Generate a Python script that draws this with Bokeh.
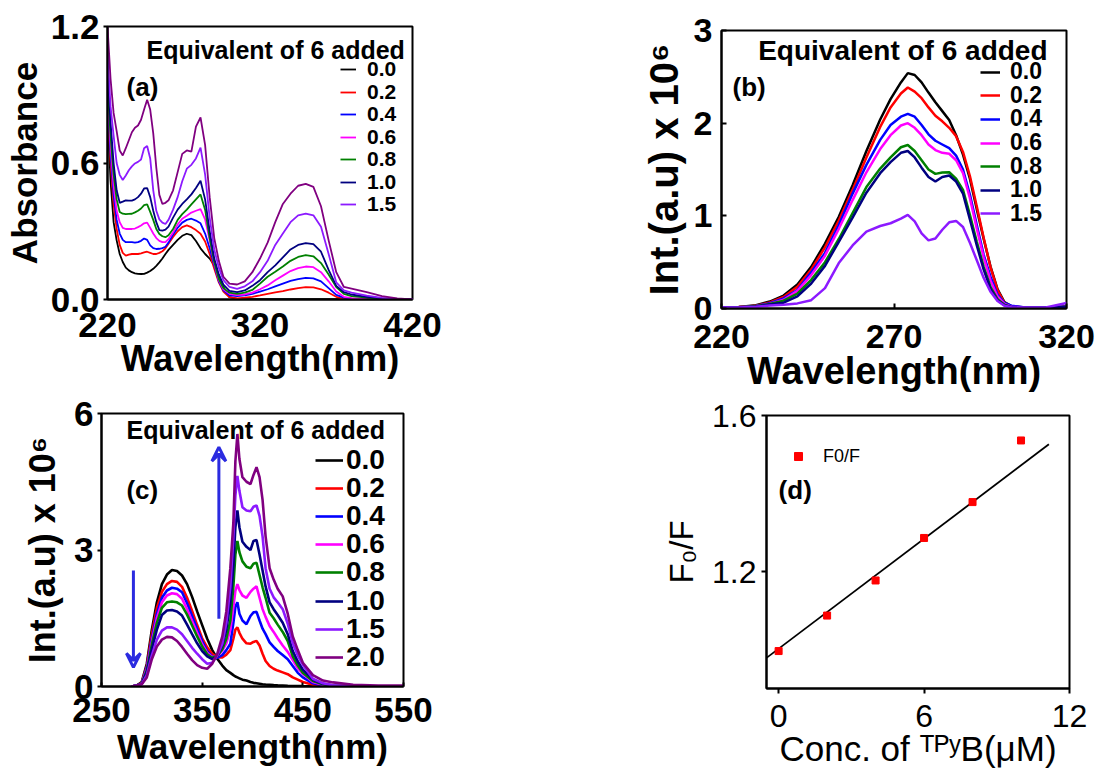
from bokeh.plotting import figure
from bokeh.layouts import row, column
from bokeh.models import (Legend, LegendItem, Label, Arrow, VeeHead, Title,
                          FixedTicker, NumeralTickFormatter, Range1d)
from bokeh.embed import file_html
from bokeh.resources import INLINE

FONT = "Liberation Sans"

# ---------------- data ----------------
equivalents = ["0.0", "0.2", "0.4", "0.6", "0.8", "1.0", "1.5", "2.0"]
colors = ["#000000", "#ff0000", "#0000ff", "#ff00ff", "#008000", "#000080", "#8c1aff", "#800080"]

# (a) absorbance
wl_a = [220, 222, 224, 226, 228, 230, 232, 234, 236, 238, 240, 242, 244, 246, 248, 250, 252, 254, 256, 258, 260,
        263, 266, 269, 272, 275, 278, 281, 284, 287, 290, 293, 296,
        300, 305, 310, 315, 320, 325, 330, 335, 340, 345, 350, 355, 360, 365, 370, 375, 380,
        390, 400, 410, 420]
abs_00 = [0.82, 0.52, 0.34, 0.26, 0.2, 0.165, 0.14, 0.128, 0.12, 0.115, 0.113, 0.112, 0.113, 0.118, 0.125, 0.135, 0.148, 0.163, 0.18, 0.2, 0.218,
          0.24, 0.262, 0.28, 0.289, 0.283, 0.257, 0.225, 0.2, 0.18, 0.15, 0.105, 0.055,
          0.01, 0.003, 0.002, 0.002, 0.002, 0.002, 0.002, 0.002, 0.002, 0.002, 0.002, 0.002, 0.002, 0.002, 0.001, 0.001, 0.001,
          0, 0, 0, 0]
abs_02 = [0.86, 0.6, 0.42, 0.31, 0.24, 0.205, 0.193, 0.197, 0.2, 0.2, 0.2, 0.203, 0.207, 0.21, 0.205, 0.2, 0.2, 0.205, 0.212, 0.225, 0.245,
          0.275, 0.3, 0.318, 0.326, 0.318, 0.305, 0.289, 0.255, 0.2, 0.135, 0.075, 0.035,
          0.01, 0.005, 0.008, 0.012, 0.018, 0.025, 0.031, 0.037, 0.044, 0.05, 0.054, 0.053, 0.045, 0.03, 0.012, 0.003, 0.0,
          0, 0, 0, 0]
abs_04 = [0.88, 0.64, 0.46, 0.35, 0.29, 0.262, 0.252, 0.252, 0.252, 0.25, 0.252, 0.258, 0.268, 0.262, 0.238, 0.226, 0.222, 0.223, 0.226, 0.232, 0.25,
          0.285, 0.315, 0.338, 0.35, 0.355, 0.347, 0.335, 0.29, 0.225, 0.15, 0.08, 0.04,
          0.018, 0.015, 0.018, 0.025, 0.035, 0.045, 0.058, 0.07, 0.082, 0.09, 0.095, 0.093, 0.08, 0.05, 0.02, 0.008, 0.004,
          0.002, 0.001, 0, 0]
abs_06 = [0.9, 0.68, 0.5, 0.39, 0.34, 0.315, 0.31, 0.31, 0.31, 0.312, 0.318, 0.325, 0.335, 0.338, 0.315, 0.29, 0.27, 0.258, 0.252, 0.252, 0.265,
          0.295, 0.33, 0.355, 0.368, 0.382, 0.39, 0.397, 0.352, 0.26, 0.16, 0.085, 0.045,
          0.025, 0.019, 0.022, 0.03, 0.045, 0.062, 0.085, 0.105, 0.125, 0.138, 0.145, 0.142, 0.12, 0.08, 0.035, 0.012, 0.006,
          0.003, 0.001, 0, 0]
abs_08 = [0.95, 0.72, 0.55, 0.44, 0.385, 0.377, 0.375, 0.376, 0.377, 0.383, 0.39, 0.4, 0.415, 0.418, 0.385, 0.35, 0.31, 0.288, 0.278, 0.274, 0.282,
          0.31, 0.35, 0.375, 0.395, 0.418, 0.44, 0.462, 0.395, 0.27, 0.165, 0.09, 0.05,
          0.03, 0.025, 0.03, 0.042, 0.07, 0.1, 0.122, 0.145, 0.17, 0.187, 0.195, 0.19, 0.16, 0.11, 0.055, 0.025, 0.015,
          0.008, 0.003, 0.001, 0]
abs_10 = [1.0, 0.78, 0.6, 0.48, 0.425, 0.43, 0.436, 0.435, 0.435, 0.44, 0.45, 0.465, 0.488, 0.49, 0.45, 0.39, 0.34, 0.305, 0.303, 0.307, 0.32,
          0.36, 0.395, 0.42, 0.44, 0.462, 0.49, 0.522, 0.44, 0.3, 0.18, 0.11, 0.065,
          0.038, 0.032, 0.04, 0.06, 0.085, 0.12, 0.15, 0.185, 0.22, 0.24, 0.248, 0.243, 0.21, 0.13, 0.06, 0.032, 0.022,
          0.012, 0.005, 0.002, 0]
abs_15 = [1.08, 0.85, 0.72, 0.6, 0.548, 0.525, 0.545, 0.568, 0.585, 0.598, 0.605, 0.615, 0.665, 0.675, 0.62, 0.48, 0.39, 0.352, 0.338, 0.332, 0.35,
          0.395, 0.45, 0.52, 0.575, 0.592, 0.62, 0.668, 0.55, 0.36, 0.22, 0.14, 0.085,
          0.055, 0.047, 0.058, 0.08, 0.12, 0.17, 0.24, 0.29, 0.34, 0.37, 0.377, 0.37, 0.32, 0.2, 0.075, 0.04, 0.03,
          0.017, 0.007, 0.003, 0]
abs_20 = [1.2, 0.97, 0.82, 0.74, 0.655, 0.633, 0.665, 0.7, 0.735, 0.755, 0.765, 0.79, 0.835, 0.878, 0.835, 0.73, 0.58, 0.46, 0.42, 0.425, 0.436,
          0.48, 0.56, 0.64, 0.655, 0.65, 0.76, 0.8, 0.68, 0.45, 0.27, 0.17, 0.1,
          0.07, 0.066, 0.08, 0.12, 0.18, 0.25, 0.34, 0.42, 0.465, 0.5, 0.508, 0.495, 0.41, 0.26, 0.12, 0.055, 0.048,
          0.032, 0.015, 0.005, 0]

# (b) emission (x 10^6)
wl_b = [220, 225, 230, 234, 238, 242, 246, 250, 254, 258, 262, 266, 269, 272, 274, 276, 278, 280, 282, 284, 286,
        288, 290, 292, 294, 296, 298, 300, 302, 304, 308, 314, 320]
int_b_00 = [0.01, 0.015, 0.035, 0.075, 0.14, 0.26, 0.45, 0.7, 0.99, 1.33, 1.7, 2.04, 2.26, 2.44, 2.54, 2.52, 2.44, 2.33, 2.225, 2.13, 2.035,
            1.87, 1.66, 1.4, 1.07, 0.75, 0.45, 0.21, 0.07, 0.025, 0.01, 0.01, 0.02]
int_b_02 = [0.01, 0.015, 0.03, 0.065, 0.125, 0.235, 0.42, 0.66, 0.95, 1.28, 1.63, 1.96, 2.17, 2.32, 2.385, 2.34, 2.27, 2.17, 2.08, 2.02, 1.95,
            1.86, 1.69, 1.43, 1.1, 0.76, 0.44, 0.2, 0.06, 0.02, 0.01, 0.01, 0.02]
int_b_04 = [0.01, 0.014, 0.028, 0.058, 0.11, 0.2, 0.39, 0.6, 0.9, 1.24, 1.55, 1.82, 1.98, 2.07, 2.1, 2.07, 1.98, 1.88, 1.81, 1.77, 1.73,
            1.65, 1.5, 1.23, 0.9, 0.58, 0.34, 0.15, 0.06, 0.03, 0.01, 0.01, 0.02]
int_b_06 = [0.01, 0.013, 0.025, 0.05, 0.095, 0.19, 0.36, 0.57, 0.86, 1.17, 1.47, 1.72, 1.87, 1.975, 2.0, 1.95, 1.87, 1.77, 1.71, 1.68, 1.67,
            1.6, 1.46, 1.19, 0.86, 0.55, 0.3, 0.13, 0.05, 0.02, 0.01, 0.01, 0.02]
int_b_08 = [0.01, 0.013, 0.025, 0.05, 0.085, 0.16, 0.31, 0.5, 0.75, 1.03, 1.31, 1.51, 1.63, 1.74, 1.765, 1.7, 1.6, 1.5, 1.453, 1.468, 1.47,
            1.4, 1.28, 1.01, 0.72, 0.45, 0.23, 0.1, 0.04, 0.014, 0.01, 0.01, 0.02]
int_b_10 = [0.01, 0.012, 0.022, 0.043, 0.063, 0.13, 0.27, 0.46, 0.72, 0.98, 1.25, 1.46, 1.58, 1.68, 1.7, 1.63, 1.52, 1.42, 1.37, 1.42, 1.435,
            1.37, 1.24, 0.96, 0.68, 0.42, 0.21, 0.09, 0.035, 0.014, 0.01, 0.01, 0.02]
int_b_15 = [0.01, 0.012, 0.02, 0.032, 0.04, 0.055, 0.09, 0.22, 0.49, 0.68, 0.83, 0.89, 0.92, 0.97, 1.01, 0.94, 0.81, 0.735, 0.755, 0.85, 0.93,
            0.945, 0.88, 0.71, 0.52, 0.33, 0.18, 0.08, 0.03, 0.014, 0.01, 0.01, 0.06]

# (c) emission (x 10^6)
wl_c = [280, 285, 290, 295, 300, 305, 310, 315, 320, 325, 330, 335, 340, 345, 350, 355, 360, 365, 370,
        374, 378, 381, 383, 385, 387, 390, 394, 398, 401, 404, 407, 410, 413, 417, 421, 425, 430, 435, 440, 445, 450,
        460, 470, 480, 500, 525, 550]
int_c_00 = [0, 0.02, 0.1, 0.5, 1.25, 1.85, 2.25, 2.46, 2.56, 2.54, 2.44, 2.25, 1.97, 1.65, 1.35, 1.05, 0.8, 0.61, 0.46,
            0.36, 0.3, 0.25, 0.22, 0.2, 0.18, 0.15, 0.13, 0.1, 0.08, 0.07, 0.06, 0.05, 0.045, 0.04, 0.03, 0.025, 0.02, 0.015, 0.012, 0.01, 0.008,
            0.005, 0.003, 0.002, 0, 0, 0]
int_c_02 = [0, 0.02, 0.08, 0.45, 1.15, 1.72, 2.08, 2.25, 2.32, 2.3, 2.19, 1.95, 1.66, 1.35, 1.06, 0.86, 0.72, 0.64, 0.64,
            0.7, 0.8, 1.05, 1.25, 1.3, 1.18, 1.05, 0.95, 0.94, 0.98, 1.0, 0.9, 0.72, 0.56, 0.45, 0.39, 0.35, 0.31, 0.27, 0.2, 0.15, 0.1,
            0.04, 0.015, 0.005, 0, 0, 0]
int_c_04 = [0, 0.02, 0.07, 0.42, 1.05, 1.6, 1.95, 2.11, 2.17, 2.15, 2.07, 1.83, 1.55, 1.27, 1.0, 0.78, 0.66, 0.63, 0.69,
            0.8, 0.94, 1.4, 1.75, 1.85, 1.6, 1.45, 1.37, 1.55, 1.63, 1.64, 1.45, 1.27, 1.15, 0.97, 0.87, 0.78, 0.69, 0.6, 0.45, 0.3, 0.2,
            0.07, 0.02, 0.005, 0, 0, 0]
int_c_06 = [0, 0.02, 0.07, 0.38, 0.98, 1.5, 1.85, 2.0, 2.05, 2.03, 1.93, 1.7, 1.44, 1.18, 0.93, 0.74, 0.65, 0.66, 0.79,
            0.95, 1.25, 1.75, 2.1, 2.25, 2.12, 2.0, 1.95, 2.08, 2.15, 2.2, 1.95, 1.7, 1.53, 1.33, 1.2, 1.06, 0.9, 0.76, 0.58, 0.4, 0.28,
            0.1, 0.04, 0.012, 0.003, 0, 0]
int_c_08 = [0, 0.02, 0.06, 0.35, 0.92, 1.4, 1.73, 1.85, 1.87, 1.85, 1.78, 1.58, 1.34, 1.1, 0.88, 0.71, 0.63, 0.67, 0.82,
            1.05, 1.45, 2.2, 2.9, 3.2, 2.95, 2.75, 2.63, 2.6, 2.7, 2.72, 2.45, 2.18, 1.95, 1.62, 1.5, 1.36, 1.2, 1.0, 0.66, 0.46, 0.3,
            0.12, 0.05, 0.015, 0.004, 0, 0]
int_c_10 = [0, 0.02, 0.06, 0.32, 0.82, 1.25, 1.57, 1.67, 1.68, 1.65, 1.56, 1.36, 1.15, 0.95, 0.78, 0.66, 0.6, 0.66, 0.9,
            1.25, 1.85, 2.65, 3.5, 3.87, 3.5, 3.18, 3.07, 3.0, 3.2, 3.22, 2.9, 2.55, 2.2, 1.85, 1.7, 1.57, 1.4, 1.15, 0.78, 0.55, 0.37,
            0.15, 0.06, 0.02, 0.005, 0, 0]
int_c_15 = [0, 0.02, 0.05, 0.25, 0.68, 1.03, 1.23, 1.3, 1.3, 1.25, 1.15, 1.0, 0.85, 0.72, 0.6, 0.5, 0.52, 0.68, 0.94,
            1.4, 2.2, 3.28, 4.2, 4.63, 4.3, 3.94, 3.87, 3.85, 3.95, 3.98, 3.75, 3.3, 2.6, 2.15, 1.96, 1.85, 1.7, 1.38, 0.95, 0.68, 0.48,
            0.17, 0.07, 0.025, 0.008, 0.003, 0]
int_c_20 = [0, 0.02, 0.05, 0.2, 0.6, 0.88, 1.03, 1.09, 1.08, 1.0, 0.87, 0.72, 0.58, 0.47, 0.41, 0.39, 0.5, 0.72, 1.1,
            1.65, 2.6, 3.6, 4.95, 5.55, 5.0, 4.6, 4.5, 4.45, 4.65, 4.82, 4.6, 4.1, 3.3, 2.6, 2.35, 2.15, 1.98, 1.6, 1.1, 0.8, 0.52,
            0.25, 0.13, 0.09, 0.04, 0.02, 0.02]

# (d) Stern-Volmer
conc = [0, 2, 4, 6, 8, 10]
f0_over_f = [0.996, 1.087, 1.177, 1.286, 1.378, 1.536]
fit_intercept = 1.002
fit_slope = 0.047
fit_x = [-0.5, 11.15]

# ---------------- helpers ----------------
def make_fig(width, height, left, right, top, bottom, xr, yr):
    p = figure(width=width, height=height, min_border_left=left, min_border_right=right,
               min_border_top=top, min_border_bottom=bottom,
               x_range=Range1d(*xr), y_range=Range1d(*yr),
               output_backend="svg", toolbar_location=None, tools="")
    try:
        p.frame_align = False   # keep each panel's own frame position inside rows
    except Exception:
        pass
    p.xgrid.visible = False
    p.ygrid.visible = False
    p.outline_line_color = "black"
    p.outline_line_width = 2
    p.outline_line_alpha = 1
    p.background_fill_color = "white"
    p.border_fill_color = "white"
    return p


def style_axis(ax, ticks, size, style, t_in, t_out, standoff, label=None, lsize="30px", lstandoff=5, fmt=None):
    ax.ticker = FixedTicker(ticks=ticks)
    ax.minor_tick_line_color = None
    ax.major_tick_in = t_in
    ax.major_tick_out = t_out
    ax.major_tick_line_width = 2
    ax.major_tick_line_color = "black"
    ax.axis_line_width = 2
    ax.axis_line_color = "black"
    ax.major_label_text_font = FONT
    ax.major_label_text_font_style = style
    ax.major_label_text_font_size = size
    ax.major_label_text_color = "black"
    ax.major_label_standoff = standoff
    ax.axis_label = label
    ax.axis_label_text_font = FONT
    ax.axis_label_text_font_style = style
    ax.axis_label_text_font_size = lsize
    ax.axis_label_text_color = "black"
    ax.axis_label_standoff = lstandoff
    if fmt:
        ax.formatter = NumeralTickFormatter(format=fmt)


def add_text(p, x, y, text, size, style="bold", align="left"):
    p.add_layout(Label(x=x, y=y, text=text, text_font=FONT, text_font_style=style,
                       text_font_size=size, text_align=align, text_baseline="middle",
                       text_color="black"))


def add_bottom_title(p, text, size, style, standoff, offset=0):
    p.add_layout(Title(text=text, align="center", vertical_align="bottom", standoff=standoff,
                       offset=offset, text_font=FONT, text_font_style=style,
                       text_font_size=size, text_color="black"), "below")


def add_legend_rows(p, renderers, labels, x_loc, y_locs, size, gw, standoff):
    # one legend block per row so the row pitch can be set independently of the font size
    for r, lab, yl in zip(renderers, labels, y_locs):
        leg = Legend(items=[LegendItem(label=lab, renderers=[r])], location=(x_loc, yl),
                     label_text_font=FONT, label_text_font_style="bold",
                     label_text_font_size=size, label_text_color="black",
                     glyph_width=gw, glyph_height=40, label_height=40,
                     label_standoff=standoff, spacing=0, padding=0, margin=0,
                     border_line_alpha=0, background_fill_alpha=0)
        p.add_layout(leg)


TOP_H = 393
BOT_H = 377

# ---------------- panel (a) ----------------
pa = make_fig(600, TOP_H, 107, 188, 26, TOP_H - 299, (220, 420), (0, 1.2))
style_axis(pa.xaxis[0], [220, 320, 420], "35px", "bold", 0, 0, 13)
style_axis(pa.yaxis[0], [0, 0.6, 1.2], "35px", "bold", 0, 4, 4, "Absorbance", "35px", 4, fmt="0.0")
add_bottom_title(pa, "Wavelength(nm)", "36px", "bold", -7)
ra = []
for ys, c in zip([abs_00, abs_02, abs_04, abs_06, abs_08, abs_10, abs_15, abs_20], colors):
    ra.append(pa.line(wl_a, ys, line_color=c, line_width=1.8))
add_legend_rows(pa, ra[:7], equivalents[:7], 233, [299 - 69 - 20 - 22.5 * i for i in range(7)], "21px", 16, 11)
add_text(pa, 415, 1.095, "Equivalent of 6 added", "25px", align="right")
add_text(pa, 232.5, 0.932, "(a)", "26px")

# ---------------- panel (b) ----------------
pb = make_fig(496, TOP_H, 121, 30, 30, TOP_H - 308, (220, 320), (0, 3))
style_axis(pb.xaxis[0], [220, 270, 320], "34px", "bold", 5, 0, 16)
style_axis(pb.yaxis[0], [0, 1, 2, 3], "34px", "bold", 5, 0, 9, "Int.(a.u) x 10\u2076", "40px", 5)
add_bottom_title(pb, "Wavelength(nm)", "38px", "bold", -6, offset=-3)
rb = []
for ys, c in zip([int_b_00, int_b_02, int_b_04, int_b_06, int_b_08, int_b_10, int_b_15], colors):
    rb.append(pb.line(wl_b, ys, line_color=c, line_width=2.5))
add_legend_rows(pb, rb, equivalents[:7], 259, [308 - 71.7 - 20 - 23.6 * i for i in range(7)], "23px", 20, 10)
add_text(pb, 314.5, 2.784, "Equivalent of 6 added", "28px", align="right")
add_text(pb, 223.2, 2.385, "(b)", "26px")

# ---------------- panel (c) ----------------
pc = make_fig(600, BOT_H, 101, 197, 413 - TOP_H, TOP_H + BOT_H - 686, (250, 550), (0, 6))
style_axis(pc.xaxis[0], [250, 350, 450, 550], "35px", "bold", 4, 0, 11)
style_axis(pc.yaxis[0], [0, 3, 6], "35px", "bold", 0, 4, 4, "Int.(a.u) x 10\u2076", "36px", 8)
add_bottom_title(pc, "Wavelength(nm)", "35px", "bold", 1)
rc = []
for ys, c in zip([int_c_00, int_c_02, int_c_04, int_c_06, int_c_08, int_c_10, int_c_15, int_c_20], colors):
    rc.append(pc.line(wl_c, ys, line_color=c, line_width=2.6))
add_legend_rows(pc, rc, equivalents, 214, [686 - 460 - 20 - 28.1 * i for i in range(8)], "28px", 28, 3)
add_text(pc, 531.6, 5.63, "Equivalent of 6 added", "25px", align="right")
add_text(pc, 274.8, 4.31, "(c)", "26px")
arrow_col = "#2b2be0"
pc.add_layout(Arrow(end=VeeHead(size=14, line_color=arrow_col, line_width=3, fill_alpha=0),
                    x_start=281.7, y_start=2.55, x_end=281.7, y_end=0.42,
                    line_color=arrow_col, line_width=3))
pc.add_layout(Arrow(end=VeeHead(size=14, line_color=arrow_col, line_width=3, fill_alpha=0),
                    x_start=366.6, y_start=1.49, x_end=366.6, y_end=5.26,
                    line_color=arrow_col, line_width=3))

# ---------------- panel (d) ----------------
pd_ = make_fig(496, BOT_H, 166, 27, 415 - TOP_H, TOP_H + BOT_H - 688, (-0.5, 12), (0.9, 1.6))
style_axis(pd_.xaxis[0], [0, 6, 12], "32px", "normal", 0, 5, 11)
style_axis(pd_.yaxis[0], [1.2, 1.6], "32px", "normal", 0, 5, 5, "F\u2080/F", "33px", 9, fmt="0.0")
add_bottom_title(pd_, "Conc. of \u1d40\u1d3e\u02b8B(\u03bcM)", "35px", "normal", -6)
fit_y = [fit_intercept + fit_slope * x for x in fit_x]
pd_.line(fit_x, fit_y, line_color="black", line_width=1.8)
sc = pd_.scatter(conc, f0_over_f, marker="square", size=7, fill_color="#ff0000", line_color="#ff0000")
legd = Legend(items=[LegendItem(label="F0/F", renderers=[sc])], location=(22, 688 - 456 - 20),
              label_text_font=FONT, label_text_font_size="18px", label_text_color="black",
              glyph_width=20, glyph_height=40, label_height=40,
              label_standoff=15, padding=0, margin=0, border_line_alpha=0, background_fill_alpha=0)
pd_.add_layout(legd)
add_text(pd_, 0.0, 1.408, "(d)", "26px")

layout = column(row(pa, pb), row(pc, pd_))
open("out.html", "w").write(file_html(layout, INLINE))
